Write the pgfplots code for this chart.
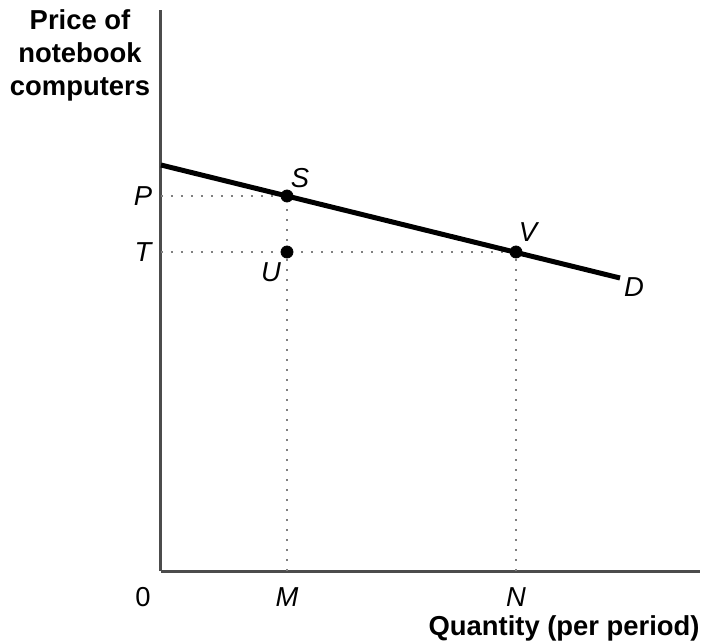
\documentclass[border=0pt]{standalone}
\usepackage{fontspec}
\setmainfont{Liberation Sans}
\usepackage{pgfplots}
\pgfplotsset{compat=1.18}
\begin{document}
\begin{tikzpicture}
\begin{axis}[
  x=0.5pt, y=0.5pt,
  xmin=0, xmax=539, ymin=0, ymax=561,
  enlargelimits=false,
  axis lines=left,
  axis line style={-, line width=1.5pt, color=gray!60!black},
  xtick=\empty, ytick=\empty,
  clip=false,
]
\path (axis cs:-161,-72) rectangle (axis cs:541,571);
% dotted guides
\addplot[gray, line width=1pt, dash pattern=on 1pt off 4pt] coordinates {(0,375) (126,375)};
\addplot[gray, line width=1pt, dash pattern=on 1pt off 4pt] coordinates {(0,319) (355,319)};
\addplot[gray, line width=1pt, dash pattern=on 1pt off 4pt] coordinates {(126,0) (126,375)};
\addplot[gray, line width=1pt, dash pattern=on 1pt off 4pt] coordinates {(355,0) (355,319)};
% demand
\addplot[black, line width=2.5pt] coordinates {(0,406) (459,293)};
% points
\addplot[only marks, mark=*, mark size=3pt, black] coordinates {(126,375) (126,319) (355,319)};
% labels
\node[align=center, font=\fontsize{13.7}{16.5}\selectfont\bfseries] at (axis cs:-81,516) {Price of\\notebook\\computers};
\node[font=\fontsize{13.7}{16}\selectfont] at (axis cs:-18,-26) {0};
\node[font=\fontsize{13.7}{16}\selectfont\itshape] at (axis cs:-18,375) {P};
\node[font=\fontsize{13.7}{16}\selectfont\itshape] at (axis cs:-18,319) {T};
\node[font=\fontsize{13.7}{16}\selectfont\itshape] at (axis cs:139,393) {S};
\node[font=\fontsize{13.7}{16}\selectfont\itshape] at (axis cs:110,299) {U};
\node[font=\fontsize{13.7}{16}\selectfont\itshape] at (axis cs:367,339) {V};
\node[font=\fontsize{13.7}{16}\selectfont\itshape] at (axis cs:473,284) {D};
\node[font=\fontsize{13.7}{16}\selectfont\itshape] at (axis cs:126,-26) {M};
\node[font=\fontsize{13.7}{16}\selectfont\itshape] at (axis cs:355,-26) {N};
\node[anchor=east, inner sep=0pt, font=\fontsize{13.7}{16}\selectfont\bfseries] at (axis cs:539,-57) {Quantity (per period)};
\end{axis}
\end{tikzpicture}
\end{document}
